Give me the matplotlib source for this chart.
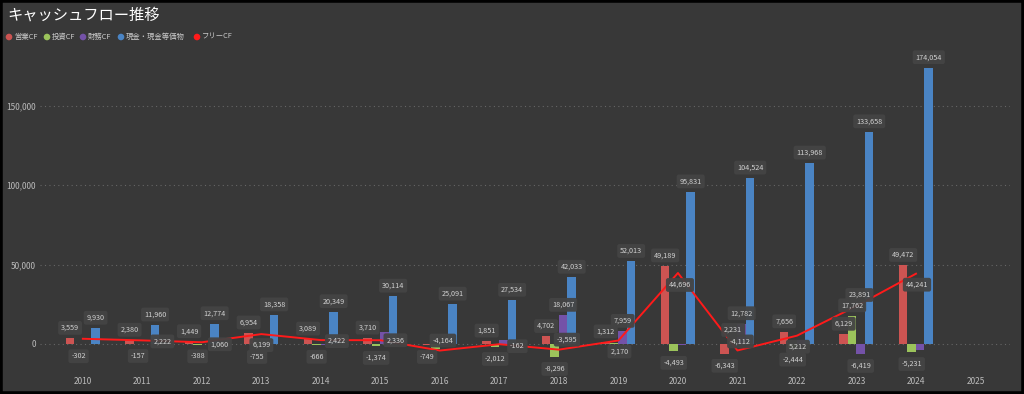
import numpy as np
import matplotlib
matplotlib.use("Agg")
from matplotlib import pyplot as plt
from matplotlib.patches import Ellipse

plt.rcParams['font.family'] = ['Noto Sans CJK JP', 'DejaVu Sans']

# Data
years = ["2010", "2011", "2012", "2013", "2014", "2015", "2016", "2017",
         "2018", "2019", "2020", "2021", "2022", "2023", "2024", "2025"]
operating = [3559, 2380, 1449, 6954, 3089, 3710, -749, 1851,
             4702, 1312, 49189, -6343, 7656, 6129, 49472]
investing = [-302, -157, -388, -755, -666, -1374, -3415, -2012,
             -8296, 858, -4493, 2231, -2444, 17762, -5231]
financing = [-200, -192, -246, -615, -431, 7429, -859, 2605,
             18067, 7959, -800, 12782, 2500, -6419, -3600]
cash = [9930, 11960, 12774, 18358, 20349, 30114, 25091, 27534,
        42033, 52013, 95831, 104524, 113968, 133658, 174054]
free_cf = [3257, 2222, 1060, 6199, 2422, 2336, -4164, -162,
           -3595, 2170, 44696, -4112, 5212, 23891, 44241]

# labels that the original chart does not show (overlap hidden)
hidden = {
    "op": [],
    "inv": ["2016", "2019"],
    "fin": ["2010", "2011", "2012", "2013", "2014", "2015", "2016", "2017",
            "2020", "2022", "2024"],
    "cash": [],
    "free": ["2010"],
}

# where the free CF labels sit relative to the line point (pixels, +y = down)
free_nudge = {"2011": (20, 1), "2012": (18, 2), "2013": (0, 11), "2014": (16, 1),
              "2015": (15, 0), "2016": (3, -10), "2017": (18, 2), "2018": (8, -10),
              "2019": (1, 11), "2020": (2, 12), "2021": (3, -9), "2022": (1, 11),
              "2023": (3, -11), "2024": (1, 11)}

BG = "#383838"
C_OP = "#CD5452"
C_INV = "#9BC35B"
C_FIN = "#7452A8"
C_CASH = "#4A84C4"
C_FREE = "#FF1A1A"
TXT = "#D2D2D2"

fig = plt.figure(figsize=(10.24, 3.94), dpi=100, facecolor=BG)
ax = fig.add_axes([40 / 1024, 28 / 394, 970 / 1024, 311 / 394])
ax.set_facecolor(BG)

x = np.arange(len(years))
n = len(operating)
xd = x[:n]
w = 0.143
series = [("op", operating, C_OP, -1.5), ("inv", investing, C_INV, -0.5),
          ("fin", financing, C_FIN, 0.5), ("cash", cash, C_CASH, 1.5)]

box = dict(boxstyle="round,pad=0.4,rounding_size=0.3", fc="#444444", ec="none", alpha=0.95)


def put_label(xx, yy, val, dx, dy):
    ax.annotate(f"{val:,}", xy=(xx, yy), xytext=(dx, dy), textcoords="offset points",
                ha="center", va="center", fontsize=5.2, color=TXT, bbox=box, zorder=6)


for key, vals, col, off in series:
    ax.bar(xd + off * w, vals, width=w, color=col, zorder=3)
    for i, v in enumerate(vals):
        if years[i] in hidden[key]:
            continue
        put_label(xd[i] + off * w, v, v, 0, 7.5 if v >= 0 else -8.5)

ax.plot(xd, free_cf, color=C_FREE, lw=1.4, zorder=4)
for i, v in enumerate(free_cf):
    if years[i] in hidden["free"]:
        continue
    dx, dy = free_nudge.get(years[i], (0, 10))
    put_label(xd[i], v, v, dx * 0.72, -dy * 0.72)

ax.set_xlim(-0.72, 15.58)
ax.set_ylim(-13900, 182000)
ax.set_xticks(x)
ax.set_xticklabels(years)
ax.set_yticks([0, 50000, 100000, 150000])
ax.set_yticklabels(["0", "50,000", "100,000", "150,000"])
ax.tick_params(length=0, colors="#BBBBBB", labelsize=6)
ax.tick_params(axis="x", pad=8)
ax.tick_params(axis="y", pad=3)
ax.grid(axis="y", color="#666666", linestyle=(0, (1, 3)), lw=0.8, zorder=0)
for s in ax.spines.values():
    s.set_visible(False)

fig.text(7 / 1024, 1 - 15 / 394, "キャッシュフロー推移", color="white", fontsize=11,
         ha="left", va="center")

# legend drawn by hand: dot + name
names = ["営業CF", "投資CF", "財務CF", "現金・現金等価物", "フリーCF"]
leg_colors = [C_OP, C_INV, C_FIN, C_CASH, C_FREE]
dot_x = [9, 47, 83, 121, 197]
ly = 1 - 37 / 394
for px, name, col in zip(dot_x, names, leg_colors):
    fig.patches.append(Ellipse((px / 1024, ly), 6.6 / 1024, 6.6 / 394,
                               transform=fig.transFigure, fc=col, ec="none"))
    fig.text((px + 5) / 1024, ly, name, color="#CCCCCC", fontsize=5.3,
             ha="left", va="center")

# black frame around the picture
fig.patches.append(plt.Rectangle((0, 0), 1, 1, transform=fig.transFigure,
                                 fill=False, ec="black", lw=4, zorder=10))

fig.savefig("out.png", dpi=100, facecolor=BG)
